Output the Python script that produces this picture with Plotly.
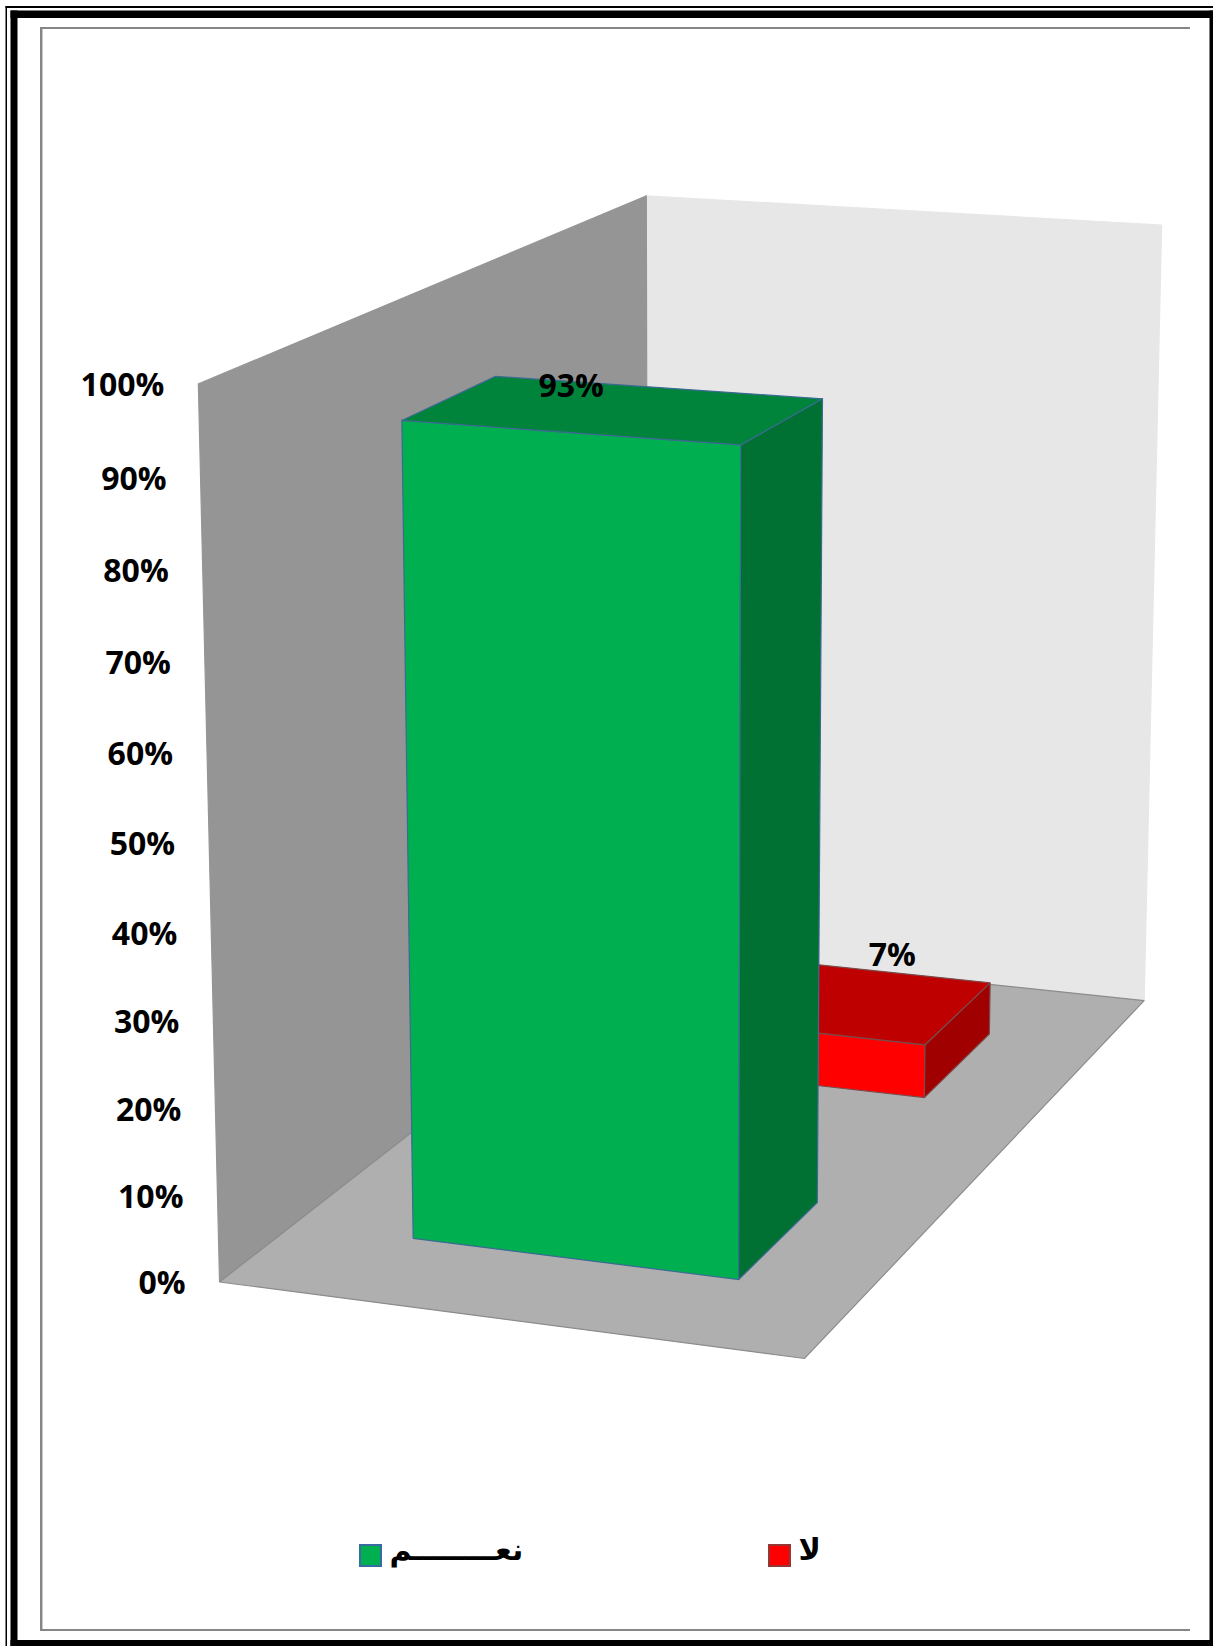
import numpy as np
import plotly.graph_objects as go

# ---------- data ----------
categories = ["نعــــــــم", "لا"]
values = [93.3, 6.7]
value_labels = ["93%", "7%"]
tick_values = [0, 10, 20, 30, 40, 50, 60, 70, 80, 90, 100]
tick_labels = ["0%", "10%", "20%", "30%", "40%", "50%", "60%", "70%", "80%", "90%", "100%"]

# ---------- styles ----------
FACE_FRONT = ["#00B050", "#FF0000"]
FACE_TOP = ["#00843C", "#BF0000"]
FACE_SIDE = ["#007033", "#A00000"]
EDGE = ["#3B6A92", "#7C4A4A"]
SWATCH_EDGE = ["#386B9E", "#953735"]
WALL_BACK, WALL_LEFT, FLOOR, WALL_EDGE = "#E7E7E7", "#959595", "#AFAFAF", "#8C8C8C"
TEXT_FONT = dict(family="Open Sans", size=32, color="#000000", weight=700)
ARABIC_FONT = dict(family="DejaVu Sans", size=30, color="#000000", weight=700)

GAP_WIDTH, GAP_DEPTH = 0.75, 1.5

# Perspective camera of the 3-D plot box, solved from where its corners sit on the page.
BOX_CORNERS = {(0, 1, 0): (198.3, 384.0), (0, 0, 0): (219.3, 1282.5), (0, 1, 1): (646.4, 196.2),
               (0, 0, 1): (648.0, 947.5), (1, 1, 1): (1161.6, 224.6), (1, 0, 1): (1144.0, 1001.5),
               (1, 0, 0): (804.8, 1357.8)}
rows = []
for (a, b, c), (px, py) in BOX_CORNERS.items():
    rows.append([a, b, c, 1, 0, 0, 0, 0, -px * a, -px * b, -px * c, -px])
    rows.append([0, 0, 0, 0, a, b, c, 1, -py * a, -py * b, -py * c, -py])
CAMERA = np.linalg.svd(np.array(rows, float))[2][-1].reshape(3, 4)


def project(points):
    """(category position, value share, depth position) -> page position"""
    pts = np.c_[np.array(points, float), np.ones(len(points))]
    q = (CAMERA @ pts.T).T
    return q[:, 0] / q[:, 2], q[:, 1] / q[:, 2]


fig = go.Figure()


def face(points, fill, line=None):
    x, y = project(points)
    fig.add_trace(go.Scatter(
        x=list(x) + [x[0]], y=list(y) + [y[0]], mode="lines", fill="toself", fillcolor=fill,
        line=dict(color=line or fill, width=1.2), hoverinfo="skip", showlegend=False))


# walls and floor
face([(0, 0, 1), (1, 0, 1), (1, 1, 1), (0, 1, 1)], WALL_BACK)
face([(0, 0, 0), (0, 0, 1), (0, 1, 1), (0, 1, 0)], WALL_LEFT)
face([(0, 0, 0), (1, 0, 0), (1, 0, 1), (0, 0, 1)], FLOOR, WALL_EDGE)

# bars: the series stand one behind the other, so draw the far one first
bar_width = 1 / (1 + GAP_WIDTH)
bar_depth = (1 / (1 + GAP_DEPTH)) / len(values)
u0, u1 = 0.5 - bar_width / 2, 0.5 + bar_width / 2
for i in reversed(range(len(values))):
    v = values[i] / 100
    wc = (i + 0.5) / len(values)
    w0, w1 = wc - bar_depth / 2, wc + bar_depth / 2
    face([(u0, 0, w0), (u1, 0, w0), (u1, v, w0), (u0, v, w0)], FACE_FRONT[i], EDGE[i])
    face([(u1, 0, w0), (u1, 0, w1), (u1, v, w1), (u1, v, w0)], FACE_SIDE[i], EDGE[i])
    face([(u0, v, w0), (u1, v, w0), (u1, v, w1), (u0, v, w1)], FACE_TOP[i], EDGE[i])

# value labels, anchored on the back top edge of each bar
LABEL_OFFSET = [(-86, 2), (49, -9)]
lx, ly = [], []
for i, val in enumerate(values):
    wc = (i + 0.5) / len(values)
    x, y = project([(0.5, val / 100, wc + bar_depth / 2)])
    lx.append(x[0] + LABEL_OFFSET[i][0])
    ly.append(y[0] + LABEL_OFFSET[i][1])
fig.add_trace(go.Scatter(x=lx, y=ly, mode="text", text=value_labels, textposition="middle center",
                         textfont=TEXT_FONT, hoverinfo="skip", showlegend=False))

# value axis labels along the front edge of the left wall
tx, ty = project([(0, t / 100, 0) for t in tick_values])
fig.add_trace(go.Scatter(x=tx - 34, y=ty + 4.5, mode="text", text=tick_labels, textposition="middle left",
                         textfont=TEXT_FONT, hoverinfo="skip", showlegend=False))

# legend
LEG_X = [370.5, 779.5]
LEG_Y = 1555.5
for i, name in enumerate(categories):
    fig.add_trace(go.Scatter(
        x=[LEG_X[i]], y=[LEG_Y], mode="markers", marker=dict(
            symbol="square", size=21, color=FACE_FRONT[i], line=dict(color=SWATCH_EDGE[i], width=2)),
        hoverinfo="skip", showlegend=False))
    fig.add_trace(go.Scatter(
        x=[LEG_X[i] + 19], y=[LEG_Y - 3], mode="text", text=[name], textposition="middle right",
        textfont=ARABIC_FONT, hoverinfo="skip", showlegend=False))


def bar_rect(x0, y0, x1, y1, color):
    return dict(type="rect", xref="x", yref="y", x0=x0, y0=y0, x1=x1, y1=y1,
                fillcolor=color, line_width=0, layer="above")


shapes = [
    bar_rect(5.5, 6, 7, 1646, "#000000"), bar_rect(5.5, 6, 1213, 8, "#000000"),
    bar_rect(10.5, 10.5, 17.5, 1646, "#000000"), bar_rect(10.5, 10.5, 1213, 18, "#000000"),
    bar_rect(1209.5, 10.5, 1213, 1646, "#000000"), bar_rect(10.5, 1640, 1213, 1646, "#000000"),
    bar_rect(40, 27, 1190, 29, "#868686"), bar_rect(40, 1629, 1190, 1631, "#868686"),
    bar_rect(40, 27, 42, 1631, "#868686"), bar_rect(42, 29, 43, 1629, "#C8C8C8"),
]

fig.update_layout(
    width=1213, height=1646, autosize=False, margin=dict(l=0, r=0, t=0, b=0),
    paper_bgcolor="#FFFFFF", plot_bgcolor="#FFFFFF", shapes=shapes,
    xaxis=dict(range=[0, 1213], visible=False, fixedrange=True),
    yaxis=dict(range=[1646, 0], visible=False, fixedrange=True),
)
fig.write_html("out.html", config={"displayModeBar": False},
               post_script="document.body.style.margin='0';document.documentElement.style.overflow='hidden';")
